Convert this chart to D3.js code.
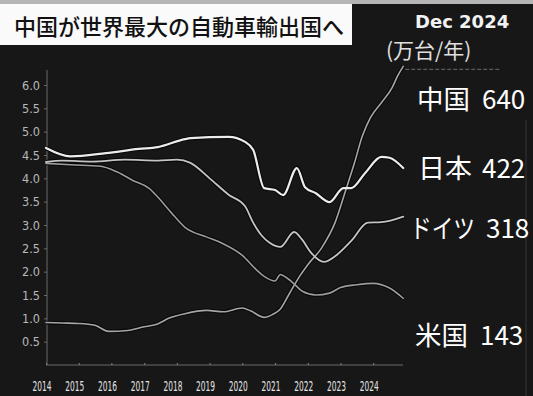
<!DOCTYPE html>
<html>
<head>
<meta charset="utf-8">
<script src="https://cdn.jsdelivr.net/npm/d3@7/dist/d3.min.js"></script>
<style>
  html, body { margin: 0; padding: 0; background: #171717; }
  svg { display: block; }
</style>
</head>
<body>
<div id="chart"></div>
<script>
// Annual vehicle exports (rolling 12 months), million units
const japanDates = ["2014-01","2014-10","2015-11","2016-11","2017-06","2018-04","2018-06","2019-08","2020-02","2020-05","2020-09","2021-01","2021-04","2021-09","2021-12","2022-04","2022-09","2023-02","2023-05","2023-10","2024-04","2024-07","2024-12"];
const japanValues = [4.65,4.47,4.54,4.63,4.67,4.84,4.86,4.89,4.78,4.61,3.79,3.75,3.64,4.22,3.81,3.68,3.49,3.79,3.79,4.11,4.46,4.44,4.22];

const germanyDates = ["2014-01","2014-07","2015-06","2016-06","2017-06","2018-01","2018-06","2019-01","2019-08","2020-02","2020-05","2020-08","2020-11","2021-03","2021-08","2021-11","2022-02","2022-07","2022-11","2023-05","2023-11","2024-04","2024-12"];
const germanyValues = [4.35,4.38,4.36,4.40,4.38,4.40,4.33,4.00,3.65,3.40,3.05,2.78,2.62,2.53,2.85,2.68,2.42,2.21,2.33,2.66,3.05,3.06,3.18];

const usDates = ["2014-01","2014-10","2015-09","2016-03","2016-09","2017-03","2017-06","2017-11","2018-04","2018-12","2019-06","2020-01","2020-06","2020-09","2021-01","2021-03","2021-05","2021-08","2021-11","2022-04","2022-09","2023-01","2023-07","2024-01","2024-07","2024-12"];
const usValues = [4.32,4.29,4.26,4.14,3.95,3.78,3.60,3.26,2.95,2.74,2.60,2.35,2.05,1.90,1.80,1.94,1.88,1.74,1.58,1.50,1.54,1.66,1.72,1.75,1.65,1.43];

const chinaDates = ["2014-01","2014-07","2015-01","2015-07","2015-12","2016-07","2017-01","2017-06","2017-10","2018-04","2018-12","2019-06","2020-01","2020-04","2020-09","2020-12","2021-03","2021-06","2021-10","2022-01","2022-06","2022-11","2023-03","2023-06","2023-09","2023-12","2024-04","2024-08","2024-10","2024-12"];
const chinaValues = [0.91,0.90,0.89,0.85,0.72,0.74,0.82,0.88,1.00,1.10,1.17,1.14,1.22,1.16,1.02,1.08,1.20,1.50,1.90,2.15,2.50,3.05,3.75,4.30,4.90,5.30,5.62,5.95,6.20,6.40];

const yearTicks = ["2014","2015","2016","2017","2018","2019","2020","2021","2022","2023","2024"];
const valueTicks = [0.5,1.0,1.5,2.0,2.5,3.0,3.5,4.0,4.5,5.0,5.5,6.0];

const seriesNames = ["中国","日本","ドイツ","米国"];
const seriesLatest = [640,422,318,143];

const W = 533, H = 396;
const parse = d3.timeParse("%Y-%m");

const svg = d3.select("#chart").append("svg")
  .attr("width", W).attr("height", H)
  .attr("viewBox", `0 0 ${W} ${H}`);

// backdrop
svg.append("rect").attr("width", W).attr("height", H).attr("fill", "#171717");
svg.append("rect").attr("width", W).attr("height", 4).attr("fill", "#b5b5b5");
svg.append("rect").attr("x", 525).attr("y", 120).attr("width", 2).attr("height", 276).attr("fill", "#262626");

// headline box
svg.append("rect").attr("x", 0).attr("y", 4).attr("width", 352).attr("height", 41).attr("fill", "#fafafa");
svg.append("text")
  .attr("x", 14).attr("y", 35)
  .attr("font-family", "'Noto Sans CJK JP', sans-serif")
  .attr("font-size", 22).attr("font-weight", 500)
  .attr("fill", "#111")
  .text("中国が世界最大の自動車輸出国へ");

svg.append("text")
  .attr("x", 415).attr("y", 28)
  .attr("font-family", "'DejaVu Sans', sans-serif")
  .attr("font-size", 18).attr("font-weight", "bold")
  .attr("fill", "#f2f2f2")
  .text("Dec 2024");

svg.append("text")
  .attr("x", 386).attr("y", 58)
  .attr("font-family", "'Noto Sans CJK JP', sans-serif")
  .attr("font-size", 21)
  .attr("fill", "#e0e0e0")
  .text("(万台/年)");

// scales
const x = d3.scaleTime()
  .domain([new Date(2014, 0, 1), new Date(2025, 0, 1)])
  .range([46, 406]);
const y = d3.scaleLinear().domain([0, 6]).range([365, 85]);

// axes
const axisColor = "#6a6a6a";
const yAxis = svg.append("g")
  .attr("transform", "translate(47,0)")
  .call(d3.axisLeft(y).tickValues(valueTicks).tickSize(3).tickPadding(4).tickFormat(d3.format(".1f")));
yAxis.select(".domain").remove();
yAxis.append("line").attr("x1", 0).attr("x2", 0).attr("y1", 70).attr("y2", 365).attr("stroke", axisColor);
yAxis.selectAll(".tick line").attr("stroke", axisColor);
yAxis.selectAll(".tick text")
  .attr("fill", "#b8b8b8")
  .attr("font-family", "'DejaVu Sans', sans-serif")
  .attr("font-size", 12.5)
  .attr("textLength", 18)
  .attr("lengthAdjust", "spacingAndGlyphs");

const tickDates = yearTicks.map(t => new Date(+t, 0, 1));
const xAxis = svg.append("g")
  .attr("transform", "translate(0,365)")
  .call(d3.axisBottom(x).tickValues(tickDates).tickSize(-2).tickFormat(""));
xAxis.select(".domain").remove();
xAxis.append("line").attr("x1", 46).attr("x2", 403).attr("stroke", axisColor);
xAxis.selectAll(".tick line").attr("stroke", "#8a8a8a");

svg.append("g").selectAll("text")
  .data(yearTicks)
  .join("text")
  .attr("x", d => x(new Date(+d, 0, 1)) - 4)
  .attr("y", 391)
  .attr("text-anchor", "middle")
  .attr("font-family", "'DejaVu Sans', sans-serif")
  .attr("font-size", 14)
  .attr("textLength", 19)
  .attr("lengthAdjust", "spacingAndGlyphs")
  .attr("fill", "#e4e4e4")
  .text(d => d);

// series lines
const line = d3.line()
  .x(d => x(d.date))
  .y(d => y(d.value))
  .curve(d3.curveMonotoneX);

function build(dates, values) {
  return dates.map((d, i) => ({ date: parse(d), value: values[i] }));
}

const series = [
  { data: build(chinaDates, chinaValues), color: "#a6a6a6", width: 1.6 },
  { data: build(usDates, usValues), color: "#9c9c9c", width: 1.6 },
  { data: build(germanyDates, germanyValues), color: "#c4c4c4", width: 1.8 },
  { data: build(japanDates, japanValues), color: "#ececec", width: 2.2 }
];

// dark halo under each line
svg.append("g").selectAll("path")
  .data(series)
  .join("path")
  .attr("d", s => line(s.data))
  .attr("fill", "none")
  .attr("stroke", "#080808")
  .attr("stroke-width", s => s.width + 2.2)
  .attr("stroke-linejoin", "round");

svg.append("g").selectAll("path")
  .data(series)
  .join("path")
  .attr("d", s => line(s.data))
  .attr("fill", "none")
  .attr("stroke", s => s.color)
  .attr("stroke-width", s => s.width)
  .attr("stroke-linejoin", "round")
  .attr("stroke-linecap", "round");

// faint leader from the latest China value
const chinaLast = series[0].data[series[0].data.length - 1];
svg.append("line")
  .attr("x1", x(chinaLast.date) + 2).attr("x2", 500)
  .attr("y1", y(chinaLast.value) + 3).attr("y2", y(chinaLast.value) + 3)
  .attr("stroke", "#5a5a5a")
  .attr("stroke-width", 1.4)
  .attr("stroke-dasharray", "4,2");

// end labels: name followed by the latest value
const labelY = [109, 178, 238, 345];
const labelX = [417, 418, 410, 415];
const nameWidth = [53, 54, 65, 53];
const labelGap = [12, 10, 11, 12];
const labels = svg.append("g").selectAll("text")
  .data(seriesNames)
  .join("text")
  .attr("x", (d, i) => labelX[i])
  .attr("y", (d, i) => labelY[i])
  .attr("font-family", "'Noto Sans CJK JP', sans-serif")
  .attr("font-size", 26)
  .attr("fill", "#ffffff");
labels.append("tspan")
  .attr("textLength", (d, i) => nameWidth[i])
  .attr("lengthAdjust", "spacingAndGlyphs")
  .text(d => d);
labels.append("tspan")
  .attr("dx", (d, i) => labelGap[i])
  .text((d, i) => seriesLatest[i]);
</script>
</body>
</html>
